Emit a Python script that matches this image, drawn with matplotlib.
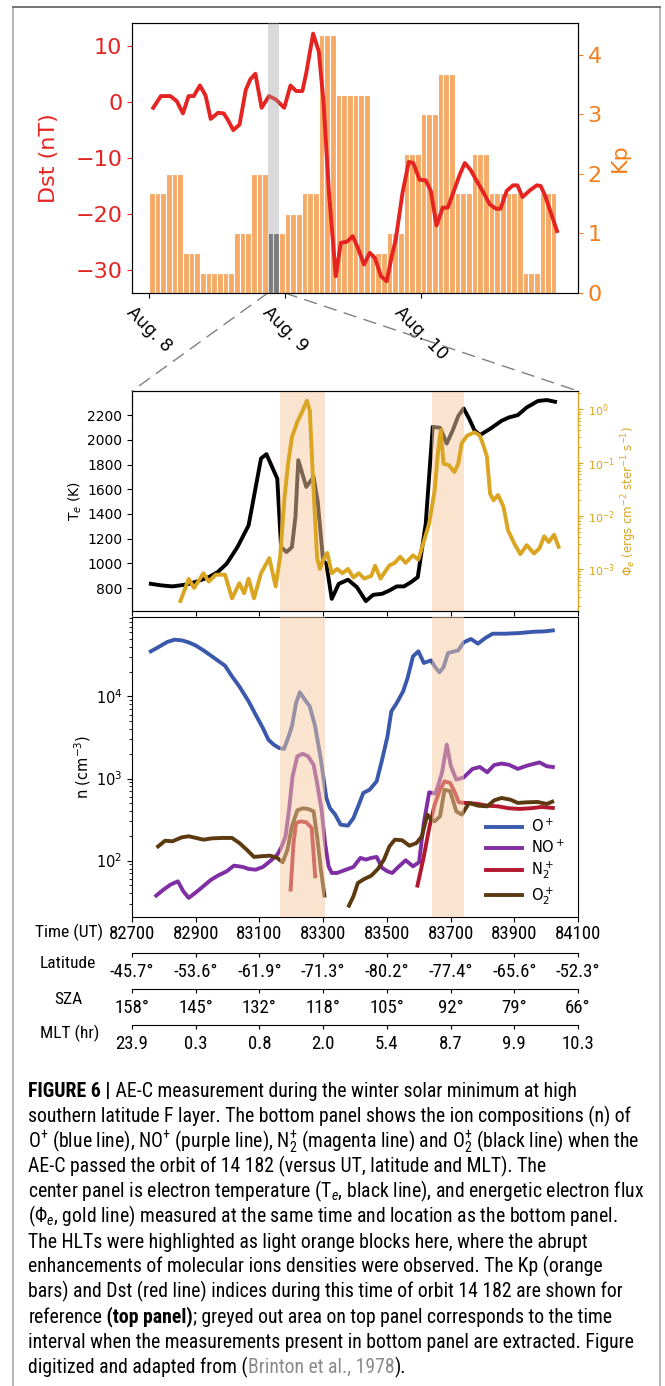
import numpy as np
import matplotlib
matplotlib.use("Agg")
import matplotlib.pyplot as plt
from matplotlib import font_manager
from matplotlib.patches import Rectangle, ConnectionPatch
from matplotlib.lines import Line2D

W, H = 665, 1386

# ---------------- top panel: Kp (3-hourly) and Dst, hours from Aug 8 00 UT
kp_3h = [1.67, 2.0, 0.67, 0.33, 0.33, 1.0, 2.0, 1.0,
         1.33, 1.67, 4.33, 3.33, 3.33, 0.67, 1.0, 2.33,
         3.0, 3.67, 1.67, 2.33, 1.67, 1.67, 0.33, 1.67]
dst_hr = [0.75, 2.1, 3.8, 4.9, 6.0, 7.0, 7.9, 9.0, 10.0, 10.9,
          12.2, 13.2, 13.9, 14.9, 16.0, 17.1, 17.9, 18.8, 19.9, 21.2,
          22.4, 23.9, 25.0, 26.0, 27.1, 27.8, 29.0, 30.0, 30.8, 31.8,
          33.0, 33.9, 35.0, 36.0, 36.9, 38.0, 39.0, 39.9, 41.0, 42.0,
          42.9, 43.6, 44.8, 45.9, 46.7, 47.8, 48.9, 49.8, 50.8, 51.9,
          52.8, 53.8, 54.9, 55.8, 56.8, 57.9, 59.1, 60.2, 61.3, 62.1,
          63.2, 64.3, 65.1, 66.0, 67.3, 68.5, 69.2, 70.0, 71.1, 72.1]
dst_nt = [-1.0, 1.1, 1.1, 0.2, -2.0, 1.1, 1.1, 3.0, 1.2, -3.0,
          -1.9, -2.0, -3.1, -5.0, -4.0, 2.2, 4.1, 5.1, -1.0, 1.1,
          0.5, -1.0, 3.0, 2.0, 2.0, 5.3, 12.3, 9.1, 0.5, -16.2,
          -31.2, -25.2, -25.0, -24.0, -26.1, -29.1, -27.0, -27.9, -31.2, -32.1,
          -27.6, -24.6, -16.2, -10.7, -10.9, -13.9, -14.0, -15.9, -22.1, -18.9,
          -18.9, -16.1, -13.0, -10.9, -12.1, -14.1, -16.2, -18.3, -19.1, -19.1,
          -15.9, -14.9, -14.9, -17.0, -15.8, -14.9, -15.0, -16.8, -20.1, -23.1]
grey_span = (21.0, 23.0)
zoom_link = (21.0, 24.0)
day_ticks = [0, 24, 48]
day_labels = ["Aug. 8", "Aug. 9", "Aug. 10"]

# ---------------- middle panel: Te and electron flux vs UT (s)
te_ut = [82759, 82793, 82827, 82873, 82907, 82941, 82969, 82997, 83031, 83066,
         83105, 83122, 83156, 83168, 83185, 83202, 83213, 83222, 83247, 83270,
         83283, 83300, 83310, 83327, 83349, 83378, 83406, 83434, 83457, 83485,
         83508, 83531, 83554, 83576, 83597, 83622, 83644, 83667, 83688, 83707,
         83724, 83741, 83758, 83775, 83792, 83826, 83860, 83883, 83911, 83939,
         83974, 84002, 84028]
te_k = [835, 822, 814, 830, 857, 889, 930, 997, 1132, 1308,
        1849, 1884, 1686, 1132, 1092, 1132, 1376, 1835, 1619, 1700,
        1500, 1020, 997, 713, 835, 868, 808, 695, 746, 754,
        781, 814, 814, 849, 889, 1322, 2105, 2097, 1970, 2078,
        2192, 2254, 2173, 2078, 2038, 2092, 2154, 2181, 2200, 2262,
        2314, 2322, 2308]
phi_ut = [82852, 82878, 82895, 82924, 82941, 82963, 82992, 83014, 83037, 83052,
          83066, 83083, 83105, 83131, 83151, 83165, 83179, 83190, 83202, 83219,
          83236, 83249, 83258, 83268, 83281, 83290, 83298, 83313, 83327, 83344,
          83361, 83378, 83395, 83412, 83429, 83451, 83463, 83480, 83508, 83525,
          83542, 83559, 83582, 83599, 83614, 83633, 83650, 83661, 83669, 83678,
          83695, 83712, 83724, 83735, 83752, 83775, 83792, 83803, 83814, 83824,
          83835, 83849, 83866, 83880, 83900, 83919, 83939, 83962, 83979, 83994,
          84008, 84025, 84039]
phi_val = [2.5e-4, 6.5e-4, 4.4e-4, 8.3e-4, 5.8e-4, 7.8e-4, 7.8e-4, 2.8e-4, 5.4e-4, 3.5e-4,
           6.6e-4, 2.8e-4, 8.3e-4, 1.6e-3, 4.7e-4, 1.7e-3, 2.3e-2, 9.5e-2, 0.30, 0.58,
           0.95, 1.45, 0.95, 0.05, 1.6e-3, 1.0e-3, 1.4e-3, 2.0e-3, 8.3e-4, 1.0e-3,
           8.3e-4, 1.0e-3, 6.9e-4, 8.3e-4, 6.6e-4, 7.4e-4, 1.15e-3, 6.6e-4, 1.17e-3, 1.3e-3,
           1.7e-3, 1.3e-3, 1.8e-3, 1.5e-3, 3.0e-3, 7.2e-3, 3.0e-2, 0.17, 0.41, 0.095,
           0.089, 0.066, 0.095, 0.23, 0.32, 0.37, 0.32, 0.21, 0.13, 0.026,
           0.0195, 0.0245, 0.0148, 5.4e-3, 3.0e-3, 1.9e-3, 2.8e-3, 1.95e-3, 2.45e-3, 4.1e-3,
           3.2e-3, 4.4e-3, 2.6e-3]

# ---------------- bottom panel: ion densities (cm^-3) vs UT (s)
op_ut = [82759, 82787, 82810, 82833, 82856, 82878, 82901, 82929, 82963, 82992,
         83014, 83037, 83066, 83088, 83111, 83128, 83145, 83162, 83177, 83190,
         83202, 83215, 83227, 83241, 83258, 83275, 83293, 83310, 83321, 83338,
         83355, 83378, 83395, 83412, 83426, 83446, 83468, 83485, 83502, 83514,
         83531, 83551, 83565, 83582, 83599, 83616, 83639, 83650, 83665, 83678,
         83692, 83712, 83724, 83741, 83764, 83786, 83809, 83832, 83871, 83917,
         83962, 83996, 84021]
op_n = [35300, 40600, 45800, 49000, 48100, 45400, 41400, 35300, 28400, 23600,
        17500, 13200, 8700, 6000, 4100, 2970, 2580, 2350, 2290, 3110,
        4320, 8300, 11200, 9300, 7550, 4320, 1690, 580, 438, 363,
        274, 267, 330, 481, 667, 731, 925, 1690, 3260, 6560,
        8300, 11500, 16700, 30700, 35300, 25500, 27400, 23200, 19600, 22700,
        33700, 35300, 36300, 45400, 49900, 43800, 51300, 57900, 57900, 59000,
        61200, 61800, 63500]
nop_ut = [82776, 82799, 82821, 82844, 82861, 82878, 82901, 82924, 82946, 82969,
          82997, 83020, 83048, 83066, 83088, 83111, 83133, 83156, 83168, 83182,
          83193, 83204, 83219, 83236, 83253, 83270, 83281, 83295, 83306, 83317,
          83327, 83344, 83366, 83395, 83417, 83434, 83451, 83468, 83485, 83502,
          83517, 83536, 83559, 83582, 83601, 83616, 83633, 83653, 83673, 83688,
          83701, 83718, 83741, 83769, 83792, 83815, 83837, 83860, 83883, 83911,
          83939, 83979, 84002, 84021]
nop_n = [37.5, 44.4, 51.1, 56.0, 42.4, 35.2, 41.2, 48.8, 57.7, 65.6,
         74.1, 86.9, 83.8, 79.3, 77.6, 83.8, 98.2, 118, 143, 198,
         418, 1060, 1860, 2000, 1860, 1470, 881, 418, 164, 85.3,
         70.8, 70.8, 76.2, 83.8, 108, 103, 108, 111, 81.5, 74.1,
         70.8, 83.8, 101, 85.3, 95.5, 287, 679, 653, 1170, 2580,
         1410, 968, 1030, 1310, 1380, 1190, 1460, 1520, 1470, 1310,
         1430, 1570, 1410, 1380]
n2p_ut = [83198, 83207, 83215, 83230, 83247, 83264, 83275, np.nan,
          83596, 83614, 83633, 83650, 83667, 83681, 83699, 83712, 83726, 83746,
          83781, 83815, 83849, 83883, 83917, 83951, 83985, 84021]
n2p_n = [44.4, 164, 287, 301, 293, 250, 64.4, np.nan,
         49.7, 103, 250, 481, 731, 925, 881, 698, 513, 504,
         494, 467, 458, 434, 426, 434, 450, 438]
o2p_ut = [82782, 82804, 82827, 82856, 82878, 82901, 82924, 82952, 82986, 83014,
          83037, 83060, 83083, 83105, 83133, 83156, 83173, 83188, 83202, 83219,
          83236, 83253, 83270, 83281, 83293, 83304, np.nan,
          83381, 83395, 83409, 83429, 83451, 83472, 83491, 83508, 83525, 83548,
          83571, 83593, 83610, 83627, 83639, 83650, 83667, 83681, 83699, 83718,
          83735, 83758, 83786, 83815, 83837, 83860, 83888, 83911, 83939, 83973,
          84002, 84019]
o2p_n = [149, 175, 172, 192, 198, 189, 180, 187, 189, 189,
         164, 136, 111, 113, 115, 108, 95.5, 136, 262, 410,
         434, 426, 398, 198, 77.6, 37.5, np.nan,
         28.3, 36.8, 53.5, 59.8, 65.6, 79.3, 103, 149, 180, 177,
         152, 164, 198, 363, 316, 301, 347, 731, 698, 398,
         363, 504, 467, 458, 542, 580, 552, 504, 513, 518,
         490, 522]

hlt_spans = [(83165, 83305), (83643, 83742)]
ut_ticks = [82700, 82900, 83100, 83300, 83500, 83700, 83900, 84100]
lat_labels = ["-45.7°", "-53.6°", "-61.9°", "-71.3°", "-80.2°", "-77.4°", "-65.6°", "-52.3°"]
sza_labels = ["158°", "145°", "132°", "118°", "105°", "92°", "79°", "66°"]
mlt_labels = ["23.9", "0.3", "0.8", "2.0", "5.4", "8.7", "9.9", "10.3"]

# ---------------- fonts
avail = {f.name for f in font_manager.fontManager.ttflist}
narrow = None
for cand in ["Liberation Sans Narrow", "Roboto Condensed", "Open Sans Condensed",
             "Noto Sans Condensed", "DejaVu Sans Condensed"]:
    if cand in avail:
        narrow = cand
        break
if narrow is None:
    narrow_fam, row_size = "Liberation Sans", 11.5
else:
    narrow_fam, row_size = narrow, 13.5

# caption math (sub/superscripts) in the caption font, plot labels keep dejavusans
plt.rcParams["mathtext.rm"] = narrow_fam
plt.rcParams["mathtext.it"] = narrow_fam + ":italic"
plt.rcParams["mathtext.bf"] = narrow_fam + ":bold"

RED = "#e52421"
KPC = "#f27f1b"
BAR = "#f6aa66"
GOLD = "#daa520"


def box(left, top, right, bottom):
    return [left / W, 1 - bottom / H, (right - left) / W, (bottom - top) / H]


fig = plt.figure(figsize=(W / 100, H / 100), dpi=100)

# ================= top panel
ax_kp = fig.add_axes(box(132, 23, 578, 293))
ax_top = ax_kp.twinx()
ax_top.set_zorder(ax_kp.get_zorder() + 1)
ax_top.patch.set_visible(False)

kp_hourly = np.repeat(kp_3h, 3)
hours = np.arange(len(kp_hourly))
bar_cols = [("#666666" if grey_span[0] <= h < grey_span[1] else BAR) for h in hours]
ax_kp.bar(hours, kp_hourly, width=1.0, align="edge", color=bar_cols,
          edgecolor="white", linewidth=0.8)
ax_kp.set_ylim(0, 4.53)
ax_kp.yaxis.tick_right()
ax_kp.yaxis.set_label_position("right")
ax_kp.set_yticks([0, 1, 2, 3, 4])
ax_kp.tick_params(axis="y", colors=KPC, labelsize=16)
ax_kp.set_ylabel("Kp", color=KPC, fontsize=16, labelpad=6)

ax_top.plot(dst_hr, dst_nt, color=RED, lw=2.8, zorder=2)
ax_top.axvspan(grey_span[0], grey_span[1], color="#a0a0a0", alpha=0.38, lw=0, zorder=3)
ax_top.yaxis.tick_left()
ax_top.yaxis.set_label_position("left")
ax_top.set_ylim(-34.2, 14.2)
ax_top.set_yticks([-30, -20, -10, 0, 10])
ax_top.tick_params(axis="y", colors=RED, labelsize=16)
ax_top.set_ylabel("Dst (nT)", color=RED, fontsize=16, labelpad=12)
ax_top.set_xlim(-3, 75.8)
ax_kp.set_xlim(-3, 75.8)
ax_kp.set_xticks(day_ticks)
ax_kp.set_xticklabels(day_labels, rotation=-45, ha="center", va="top", fontsize=12.5)
ax_kp.tick_params(axis="x", pad=4)
for sp in ax_kp.spines.values():
    sp.set_color("#333333")

# ================= middle panel
ax_mid = fig.add_axes(box(132, 391, 578, 611))
ax_mid.plot(te_ut, te_k, color="black", lw=2.8, zorder=2)
for a, b in hlt_spans:
    ax_mid.axvspan(a, b, color="#f7c9a0", alpha=0.5, lw=0, zorder=3)
ax_mid.set_xlim(82700, 84100)
ax_mid.set_ylim(615, 2395)
ax_mid.set_yticks(range(800, 2201, 200))
ax_mid.set_xticks(ut_ticks)
ax_mid.tick_params(labelbottom=False, labelsize=10)
ax_mid.set_ylabel(r"T$_e$ (K)", fontsize=10, labelpad=2)

ax_phi = ax_mid.twinx()
ax_phi.plot(phi_ut, phi_val, color=GOLD, lw=2.8)
ax_phi.set_yscale("log")
ax_phi.set_ylim(10 ** -3.79, 10 ** 0.344)
ax_phi.set_yticks([1e-3, 1e-2, 1e-1, 1e0])
ax_phi.tick_params(axis="y", which="both", colors=GOLD, labelsize=8)
ax_phi.spines["right"].set_color(GOLD)
ax_phi.set_ylabel(r"$\Phi_e$ (ergs cm$^{-2}$ ster$^{-1}$ s$^{-1}$)", color=GOLD,
                  fontsize=8.5, labelpad=3)

# ================= bottom panel
ax_bot = fig.add_axes(box(132, 617, 578, 917))
l1, = ax_bot.plot(op_ut, op_n, color="#3a59ad", lw=2.8, label=r"O$^+$")
l2, = ax_bot.plot(nop_ut, nop_n, color="#7f2fa3", lw=2.8, label=r"NO$^+$")
l3, = ax_bot.plot(n2p_ut, n2p_n, color="#b3182e", lw=2.8, label=r"N$_2^+$")
l4, = ax_bot.plot(o2p_ut, o2p_n, color="#5c3a10", lw=2.8, label=r"O$_2^+$")
for a, b in hlt_spans:
    ax_bot.axvspan(a, b, color="#f7c9a0", alpha=0.5, lw=0, zorder=3)
ax_bot.set_yscale("log")
ax_bot.set_ylim(10 ** 1.314, 10 ** 4.966)
ax_bot.set_xlim(82700, 84100)
ax_bot.set_xticks(ut_ticks)
ax_bot.set_xticklabels([str(t) for t in ut_ticks], fontfamily=narrow_fam, fontsize=row_size)
ax_bot.tick_params(axis="y", labelsize=10.5)
ax_bot.tick_params(axis="x", pad=2)
ax_bot.set_ylabel(r"n (cm$^{-3}$)", fontsize=10.5, labelpad=2)
ax_bot.legend(handles=[l1, l2, l3, l4], loc="lower right", bbox_to_anchor=(1.0, -0.01),
              frameon=False, fontsize=10.5, handlelength=2.5, labelspacing=0.25,
              handletextpad=0.6)

# extra coordinate rows under the bottom panel
for off, labels in zip([26, 52, 78], [lat_labels, sza_labels, mlt_labels]):
    axr = ax_bot.twiny()
    axr.set_xlim(ax_bot.get_xlim())
    axr.xaxis.set_ticks_position("bottom")
    axr.spines["bottom"].set_position(("outward", off))
    for s in ["top", "left", "right"]:
        axr.spines[s].set_visible(False)
    axr.set_xticks(ut_ticks)
    axr.set_xticklabels(labels, fontfamily=narrow_fam, fontsize=row_size)
    axr.tick_params(axis="x", length=3, pad=4)

for txt, x, y in [("Time (UT)", 69, 932), ("Latitude", 68, 964),
                  ("SZA", 68, 1000), ("MLT (hr)", 70, 1033)]:
    fig.text(x / W, 1 - y / H, txt, ha="center", va="center",
             fontfamily=narrow_fam, fontsize=row_size - 1)

# dashed zoom lines from the grey interval to the middle panel
ylo = ax_top.get_ylim()[0]
for xa, xb in [(zoom_link[0], 0), (zoom_link[1], 1)]:
    con = ConnectionPatch(xyA=(xa, ylo), coordsA=ax_top.transData,
                          xyB=(xb, 1), coordsB=ax_mid.transAxes,
                          color="#808080", lw=1.0, linestyle=(0, (9, 6)))
    fig.add_artist(con)

# page frame
fig.add_artist(Rectangle((13 / W, -0.01), (660 - 13) / W, (1386 - 7) / H + 0.01,
                         transform=fig.transFigure, fill=False,
                         edgecolor="#b0b0b0", lw=1.3))
fig.add_artist(Line2D([13 / W, 660 / W], [1 - 7 / H, 1 - 7 / H],
                      transform=fig.transFigure, color="#707070", lw=1.3))

# ================= caption
cap_fam = narrow_fam
cap_lines = [
    [("FIGURE 6 |", "bold", "black"),
     (" AE-C measurement during the winter solar minimum at high", "normal", "black")],
    [("southern latitude F layer. The bottom panel shows the ion compositions (n) of", "normal", "black")],
    [(r"O$^{+}$ (blue line), NO$^{+}$ (purple line), N$_2^{+}$ (magenta line) and O$_2^{+}$ (black line) when the",
      "normal", "black")],
    [("AE-C passed the orbit of 14 182 (versus UT, latitude and MLT). The", "normal", "black")],
    [(r"center panel is electron temperature (T$_e$, black line), and energetic electron flux", "normal", "black")],
    [(r"($\Phi_e$, gold line) measured at the same time and location as the bottom panel.", "normal", "black")],
    [("The HLTs were highlighted as light orange blocks here, where the abrupt", "normal", "black")],
    [("enhancements of molecular ions densities were observed. The Kp (orange", "normal", "black")],
    [("bars) and Dst (red line) indices during this time of orbit 14 182 are shown for", "normal", "black")],
    [("reference", "normal", "black"), (" (top panel)", "bold", "black"),
     ("; greyed out area on top panel corresponds to the time", "normal", "black")],
    [("interval when the measurements present in bottom panel are extracted. Figure", "normal", "black")],
    [("digitized and adapted from (", "normal", "black"), ("Brinton et al., 1978", "normal", "#8a8a8a"),
     (").", "normal", "black")],
]

rend = fig.canvas.get_renderer()
probe = fig.text(0, 0, cap_lines[1][0][0], fontfamily=cap_fam, fontsize=12)
cap_size = 12 * 605 / probe.get_window_extent(rend).width
probe.remove()

for i, parts in enumerate(cap_lines):
    xpx = 28.5
    ypx = 1097 + 25.1 * i
    for txt, wt, col in parts:
        t = fig.text(xpx / W, 1 - ypx / H, txt, fontfamily=cap_fam, fontsize=cap_size,
                     fontweight=wt, color=col, ha="left", va="baseline",
                     math_fontfamily="custom")
        xpx += t.get_window_extent(rend).width

fig.savefig("out.png", dpi=100)
